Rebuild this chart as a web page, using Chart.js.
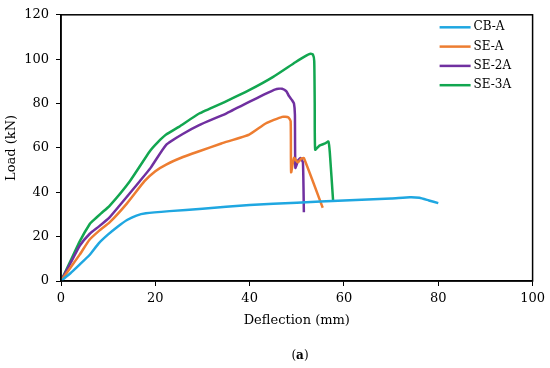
<!DOCTYPE html>
<html>
<head>
<meta charset="utf-8">
<script src="https://cdn.jsdelivr.net/npm/chart.js@4.4.1/dist/chart.umd.min.js"></script>
<style>
  html, body { margin: 0; padding: 0; background: #fff; }
  #wrap { position: relative; width: 550px; height: 368px; }
  #caption {
    position: absolute; left: 0; width: 600px; top: 348px; text-align: center;
    font-family: "DejaVu Serif", serif; font-size: 12px; color: #000;
  }
</style>
</head>
<body>
<div id="wrap">
  <canvas id="grafico" width="550" height="368"></canvas>
  <div id="caption">(<b>a</b>)</div>
</div>
<script>
// ── DATOS ─────────────────────────────────────────────────

const cbA_defl = [0, 2, 4, 6, 8, 10, 12, 14, 16, 18, 23, 30, 40, 50, 60, 70, 74, 76, 78, 80];
const cbA_load = [0, 3.5, 7.5, 11.6, 17, 21, 24.5, 27.5, 29.5, 30.5, 31.5, 32.6, 34.3, 35.3, 36.3, 37.2, 37.8, 37.5, 36.3, 35.1];

const seA_defl = [0, 2, 4, 6, 8, 10.3, 14, 17.7, 20, 22.3, 26, 29.3, 34, 39.9, 43.4, 46.9, 48.2, 48.7, 48.8, 49.4, 50.2, 51.0, 51.5, 55.5];
const seA_load = [0, 6, 12, 18.5, 22.5, 26.4, 35, 45, 49.5, 52.5, 56, 58.5, 62, 66, 71, 74, 73.8, 72, 49, 55.5, 53.5, 55.2, 55.4, 33];

const se2A_defl = [0, 2, 4, 6.1, 8, 10.3, 13, 16.7, 19, 22.3, 26, 29.3, 35, 39.9, 43, 45.5, 46.9, 47.8, 48.3, 49, 49.4, 49.6, 49.7, 50.3, 50.8, 51.3, 51.5];
const se2A_load = [0, 8, 16, 21.3, 24.5, 28.7, 35.5, 45, 51, 61.4, 66.5, 70.3, 75.5, 80.7, 84, 86.4, 86.7, 85.5, 83.5, 81.5, 80, 75, 51, 54.5, 55.4, 53.5, 31];

const se3A_defl = [0, 2, 4, 6.1, 6.8, 8.5, 10.3, 14.6, 18.8, 20.5, 22.3, 25, 29.3, 35, 39.9, 45, 49.7, 52.0, 52.9, 53.4, 53.7, 53.8, 53.9, 54.8, 56.0, 56.7, 57.0, 57.7];
const se3A_load = [0, 9, 18, 25.7, 27.2, 30.5, 33.9, 45, 58.4, 62.5, 66, 69.5, 75.5, 81, 86, 92, 98.6, 101.6, 102.4, 102.2, 99, 80, 59.2, 61, 62, 62.9, 58, 36.1];

const etiquetas = ["CB-A", "SE-A", "SE-2A", "SE-3A"];
const colores = ["#1FA7E1", "#ED7D31", "#7030A0", "#12A650"];

const ejeX = { min: 0, max: 100, paso: 20, titulo: "Deflection (mm)" };
const ejeY = { min: 0, max: 120, paso: 20, titulo: "Load (kN)" };

// ── GRAFICO ───────────────────────────────────────────────

const fuente = "'DejaVu Serif', serif";

function puntos(xs, ys) {
  return xs.map((x, i) => ({ x, y: ys[i] }));
}

const series = [
  puntos(cbA_defl, cbA_load),
  puntos(seA_defl, seA_load),
  puntos(se2A_defl, se2A_load),
  puntos(se3A_defl, se3A_load),
];

const datasets = series.map((data, i) => ({
  label: etiquetas[i],
  data,
  borderColor: colores[i],
  backgroundColor: colores[i],
  borderWidth: 2.5,
  pointRadius: 0,
  tension: 0.15,
  fill: false,
}));

// marco alrededor del area y leyenda dentro del grafico
const marcoYLeyenda = {
  id: "marcoYLeyenda",
  afterDraw(chart) {
    const { ctx, chartArea: a } = chart;
    ctx.save();
    ctx.strokeStyle = "#000";
    ctx.lineWidth = 1.5;
    ctx.strokeRect(a.left, a.top, a.right - a.left, a.bottom - a.top);

    ctx.font = "12px " + fuente;
    ctx.textBaseline = "middle";
    ctx.textAlign = "left";
    chart.data.datasets.forEach((ds, i) => {
      const y = a.top + 12.5 + i * 19.3;
      ctx.strokeStyle = ds.borderColor;
      ctx.lineWidth = 2.5;
      ctx.beginPath();
      ctx.moveTo(a.right - 93, y);
      ctx.lineTo(a.right - 62, y);
      ctx.stroke();
      ctx.fillStyle = "#000";
      ctx.fillText(ds.label, a.right - 59, y);
    });
    ctx.restore();
  }
};

const ctx = document.getElementById("grafico").getContext("2d");
new Chart(ctx, {
  type: "line",
  data: { datasets },
  plugins: [marcoYLeyenda],
  options: {
    responsive: false,
    animation: false,
    layout: { padding: { left: 0, top: 12, right: 15, bottom: 36 } },
    plugins: { legend: { display: false }, tooltip: { enabled: false } },
    scales: {
      x: {
        type: "linear",
        min: ejeX.min, max: ejeX.max,
        ticks: { stepSize: ejeX.paso, color: "#000", padding: 5, font: { family: fuente, size: 13 } },
        grid: { drawOnChartArea: false, color: "#000", tickLength: 5 },
        border: { color: "#000", width: 1.5 },
        title: { display: true, text: ejeX.titulo, color: "#000", font: { family: fuente, size: 13 } },
        afterFit: s => { s.height = 51; },
      },
      y: {
        min: ejeY.min, max: ejeY.max,
        ticks: { stepSize: ejeY.paso, color: "#000", padding: 7, font: { family: fuente, size: 13 } },
        grid: { drawOnChartArea: false, color: "#000", tickLength: 5 },
        border: { color: "#000", width: 1.5 },
        title: { display: true, text: ejeY.titulo, color: "#000", font: { family: fuente, size: 13 } },
        afterFit: s => { s.width = 61; },
      },
    },
  },
});
</script>
</body>
</html>
